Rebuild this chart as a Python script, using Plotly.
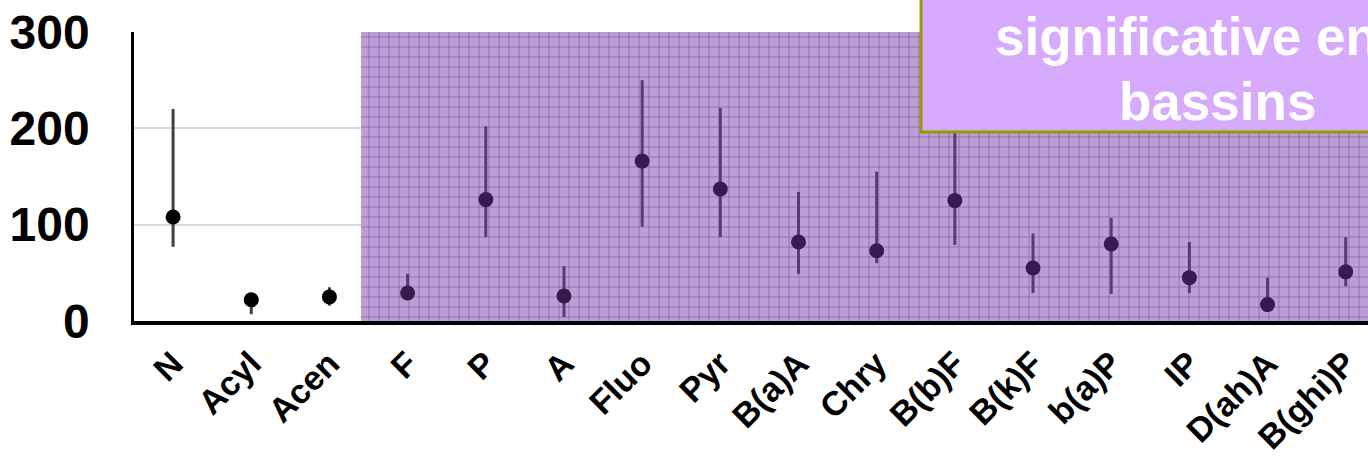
import plotly.graph_objects as go

categories = ["N", "Acyl", "Acen", "F", "P", "A", "Fluo", "Pyr", "B(a)A", "Chry",
              "B(b)F", "B(k)F", "b(a)P", "IP", "D(ah)A", "B(ghi)P"]
values = [108, 22, 25, 29, 126, 26, 166, 137, 82, 73, 125, 55, 80, 45, 17, 51]
upper = [220, 26, 35, 49, 202, 57, 250, 221, 134, 155, 205, 91, 107, 82, 45, 87]
lower = [77, 7, 16, 22, 87, 4, 98, 87, 49, 60, 79, 29, 28, 29, 10, 36]

y_ticks = [0, 100, 200, 300]
y_max = 300
shade_start = 2.405   # significant zone begins between "Acen" and "F"
x_end = 15.285        # plot continues past the last visible category

box_lines = ["significative en", "bassins"]

x_idx = list(range(len(categories)))
err_plus = [u - v for u, v in zip(upper, values)]
err_minus = [v - l for v, l in zip(values, lower)]

FONT = "Liberation Sans, Arial, sans-serif"

fig = go.Figure()

# textured purple zone (grid pattern)
fig.add_trace(go.Bar(
    x=[(shade_start + x_end) / 2], y=[y_max], width=[x_end - shade_start], base=0,
    marker=dict(color="#ffffff", line=dict(width=0),
                pattern=dict(shape="+", size=10, solidity=0.16, fgcolor="#5a2890",
                             fillmode="overlay")),
    hoverinfo="skip", showlegend=False,
))

fig.add_trace(go.Scatter(
    x=x_idx, y=values, mode="markers",
    marker=dict(color="black", size=15),
    error_y=dict(type="data", symmetric=False, array=err_plus, arrayminus=err_minus,
                 color="#404040", thickness=3, width=0),
    showlegend=False, cliponaxis=False,
))

# semi-transparent purple overlay above the marks
fig.add_shape(type="rect", xref="x", yref="y", x0=shade_start, x1=x_end, y0=0, y1=y_max,
              fillcolor="rgba(115,55,165,0.48)", line=dict(width=0), layer="above")

# text box
fig.add_shape(type="rect", xref="paper", yref="paper", x0=0.6378, x1=1.3, y0=0.654, y1=1.3,
              fillcolor="#d6aafc", line=dict(color="#999900", width=3), layer="above")
fig.add_annotation(xref="paper", yref="paper", x=0.6961, y=0.9827, xanchor="left", yanchor="middle",
                   text=box_lines[0], showarrow=False,
                   font=dict(family=FONT, size=53, color="white", weight="bold"))
fig.add_annotation(xref="paper", yref="paper", x=0.8784, y=0.7578, xanchor="center", yanchor="middle",
                   text=box_lines[1], showarrow=False,
                   font=dict(family=FONT, size=53, color="white", weight="bold"))

fig.update_layout(
    width=1368, height=459,
    margin=dict(l=134, r=0, t=32, b=138, autoexpand=False),
    paper_bgcolor="white", plot_bgcolor="white",
    bargap=0,
    xaxis=dict(
        range=[-0.5, x_end], tickmode="array", tickvals=x_idx, ticktext=categories,
        tickangle=-45, tickfont=dict(family=FONT, size=34, color="black", weight="bold"),
        showline=True, linecolor="black", linewidth=4, showgrid=False, zeroline=False,
        ticks="", ticklabelstandoff=5, automargin=False,
    ),
    yaxis=dict(
        range=[0, y_max], tickmode="array", tickvals=y_ticks,
        tickfont=dict(family=FONT, size=48, color="black", weight="bold"),
        showline=True, linecolor="black", linewidth=2.5,
        showgrid=True, gridcolor="#d9d9d9", gridwidth=2, zeroline=False,
        ticks="", ticklabelstandoff=32, automargin=False,
    ),
)

fig.write_html("out.html", config={"displayModeBar": False},
               post_script="document.body.style.margin='0px';")
